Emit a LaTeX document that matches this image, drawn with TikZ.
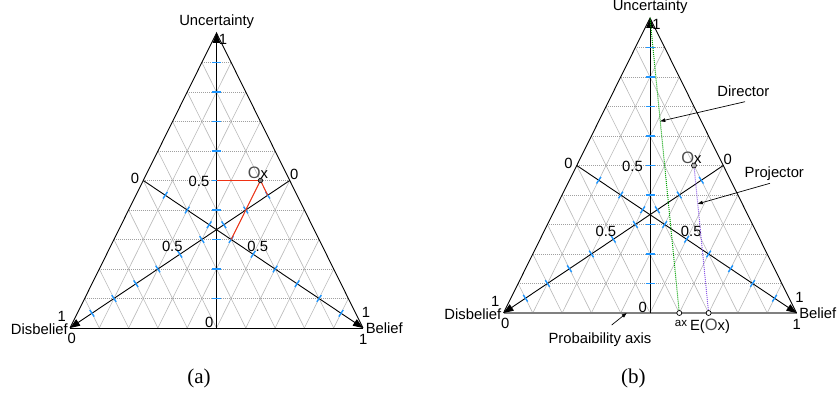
\documentclass[tikz,border=0pt]{standalone}
\usepackage{fontspec}
\setmainfont{Liberation Sans}
\newfontfamily\capfont{Liberation Serif}
\usetikzlibrary{arrows.meta,decorations.markings,calc}
\definecolor{tickblue}{RGB}{30,150,255}
\definecolor{gridgray}{RGB}{160,160,160}
\definecolor{redline}{RGB}{240,50,20}
\definecolor{dirgreen}{RGB}{0,160,0}
\definecolor{projpurple}{RGB}{140,90,230}
\tikzset{
  lbl/.style={inner sep=0pt, font=\fontsize{14.8}{16}\selectfont},
  smalllbl/.style={inner sep=0pt, font=\fontsize{11.5}{12}\selectfont},
  captionlbl/.style={inner sep=0pt, font=\capfont\fontsize{21}{24}\selectfont},
  gridh/.style={gridgray, line width=0.7pt, dash pattern=on 1pt off 1pt},
  grids/.style={black!27, line width=0.6pt},
  side/.style={black, line width=0.9pt},
  probaxis/.style={black!50, line width=1.8pt},
  axisarrow/.style={black, line width=0.9pt, -{Triangle[length=10pt,width=7.5pt]}},
  vtick/.style={tickblue, line width=1.5pt},
  mtick/.style={decoration={markings, mark=between positions 0.1 and 0.95 step 0.1 with {\draw[tickblue, line width=1.4pt] (0,-4pt) -- (0,4pt);}}, decorate},
  redl/.style={redline, line width=1pt},
  dirl/.style={dirgreen, line width=1pt, dash pattern=on 1pt off 1pt},
  projl/.style={projpurple, line width=1pt, dash pattern=on 1pt off 1pt},
  oxdot/.style={circle, draw=black, fill=gray, inner sep=0pt, minimum size=4.5pt, line width=0.6pt},
  hollowdot/.style={circle, draw=black, fill=white, inner sep=0pt, minimum size=5pt, line width=0.7pt},
  callout/.style={black, line width=0.7pt, -{Triangle[length=5pt,width=3.5pt]}}
}
\newcommand\OO{{\color{black!70}\fontsize{16.5}{16}\selectfont O}}
\newcommand\ternary[2]{%
  \coordinate (#1D) at (-1,0);
  \coordinate (#1B) at (1,0);
  \coordinate (#1T) at (0,1);
  \coordinate (#1O) at (0,0);
  \coordinate (#1ML) at (-0.5,0.5);
  \coordinate (#1MR) at (0.5,0.5);
  \foreach \k in {1,...,9}{%
    \draw[grids] ({2*\k/10-1},0) -- ({\k/10},{1-\k/10});
    \draw[grids] ({1-2*\k/10},0) -- ({-\k/10},{1-\k/10});
  }
  \foreach \k in {1,...,9}{%
    \draw[gridh] ({-(1-\k/10)},{\k/10}) -- ({1-\k/10},{\k/10});
  }
  \draw[#2] (#1D) -- (#1B);
  \draw[side] (#1D) -- (#1T) -- (#1B);
  \draw[axisarrow] (#1O) -- (#1T);
  \draw[axisarrow] (#1ML) -- (#1B);
  \draw[axisarrow] (#1MR) -- (#1D);
  \path[mtick] (#1ML) -- (#1B);
  \path[mtick] (#1MR) -- (#1D);
  \foreach \k in {1,...,9}{%
    \draw[vtick] (0,{\k/10}) ++(-4.5pt,0) -- ++(9pt,0);
  }
  \node[lbl] (#1unc) at (0.2pt,306.3pt) {Uncertainty};
  \node[lbl] (#1one) at (6.5pt,289pt) {1};
  \node[lbl] (#1zl) at (-81.5pt,150pt) {0};
  \node[lbl] (#1zr) at (77.8pt,154pt) {0};
  \node[lbl] (#1hv) at (-17.5pt,146.3pt) {0.5};
  \node[lbl] (#1hl) at (-44.2pt,81.3pt) {0.5};
  \node[lbl] (#1hr) at (41.2pt,81.3pt) {0.5};
  \node[lbl] (#1zo) at (-7.2pt,5.3pt) {0};
  \node[lbl] (#1disone) at (-154.8pt,12pt) {1};
  \node[lbl] (#1dis) at (-177.2pt,-1.3pt) {Disbelief};
  \node[lbl] (#1diszero) at (-144.8pt,-10.3pt) {0};
  \node[lbl] (#1belone) at (149.5pt,15.3pt) {1};
  \node[lbl] (#1bel) at (167.8pt,-0.3pt) {Belief};
  \node[lbl] (#1belbase) at (146.8pt,-11.3pt) {1};
}
\begin{document}
\begin{tikzpicture}[x=1pt,y=1pt]
\useasboundingbox (0,0) rectangle (837,396);
% ---------- (a) ----------
\begin{scope}[shift={(216.5pt,68pt)}, x=146.5pt, y=295pt]
  \ternary{a}{side}
  \coordinate (aOxc) at (0.3,0.5);
  \coordinate (aU) at (0,0.5);
  \coordinate (aBp) at (0.1,0.3);
  \coordinate (aDp) at (0.35,0.45);
  \draw[redl] (aU) -- (aOxc);
  \draw[redl] (aBp) -- (aOxc) -- (aDp);
  \node[oxdot] (aOx) at (aOxc) {};
  \node[lbl] (aOxl) at (41.5pt,155pt) {\OO x};
\end{scope}
\node[captionlbl] (capa) at (199,17.7) {(a)};
% ---------- (b) ----------
\begin{scope}[shift={(650pt,83pt)}, x=146.5pt, y=295pt]
  \ternary{b}{probaxis}
  \coordinate (bax) at (0.2,0);
  \coordinate (bEOx) at (0.4,0);
  \coordinate (bOxc) at (0.3,0.5);
  \coordinate (bprobpt) at (-0.159,0);
  \draw[dirl] (bT) -- coordinate[pos=0.35] (bdirpt) (bax);
  \draw[projl] (bOxc) -- coordinate[pos=0.26] (bprojpt) (bEOx);
  \node[hollowdot] (baxdot) at (bax) {};
  \node[hollowdot] (bEdot) at (bEOx) {};
  \node[oxdot, fill=gray!60, minimum size=5pt] (bOx) at (bOxc) {};
  \node[lbl] (bOxl) at (41.5pt,155pt) {\OO x};
\end{scope}
\node[smalllbl] (axl) at (681,72.7) {ax};
\node[lbl] (eoxl) at (710,70) {E(\OO x)};
\node[lbl] (dirlbl) at (743.3,304.3) {Director};
\node[lbl] (projlbl) at (774.3,222) {Projector};
\node[lbl] (problbl) at (600,56.7) {Probaibility axis};
\coordinate (dirstart) at (745,294.3);
\coordinate (projstart) at (770,212.7);
\coordinate (probstart) at (611.7,71);
\draw[callout] (dirstart) -- (bdirpt);
\draw[callout] (projstart) -- (bprojpt);
\draw[callout] (probstart) -- (bprobpt);
\node[captionlbl] (capb) at (633.3,17.7) {(b)};
\end{tikzpicture}
\end{document}
